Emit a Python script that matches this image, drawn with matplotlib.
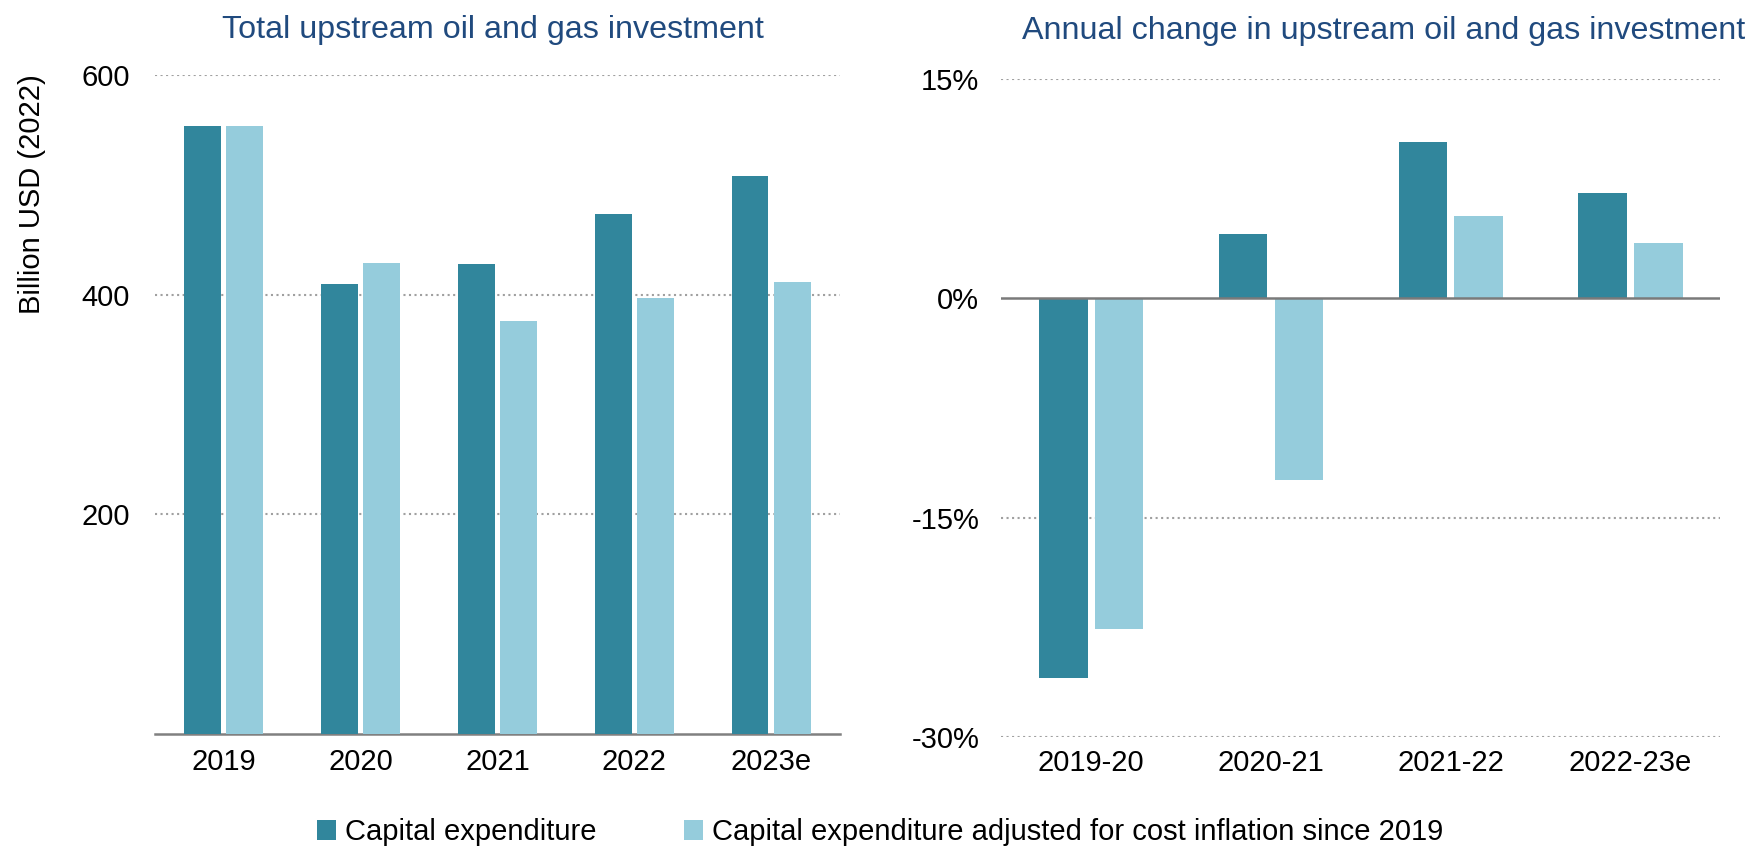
import matplotlib
matplotlib.use('Agg')
import matplotlib.pyplot as plt
import numpy as np

plt.rcParams['font.family'] = ['Liberation Sans', 'DejaVu Sans']

# 年ごとの上流投資額 (十億USD, 2022年価格)
years = ['2019', '2020', '2021', '2022', '2023e']
capex = [554, 410, 428, 474, 508]
capex_adj = [554, 429, 376, 397, 412]

# 前年比の変化率 (%)
periods = ['2019-20', '2020-21', '2021-22', '2022-23e']
chg = [-26.0, 4.4, 10.7, 7.2]
chg_adj = [-22.6, -12.4, 5.6, 3.8]

dark = '#31869c'
light = '#95ccdc'
title_col = '#204a7e'
grid_col = '#a0a0a0'
fs = 21
tfs = 23.2

fig = plt.figure(figsize=(17.6, 8.68), dpi=100)
ax1 = fig.add_axes([0.0881, 0.1544, 0.389, 0.759])
ax2 = fig.add_axes([0.569, 0.151, 0.4085, 0.758])

w = 0.27
off = 0.155

# 左: 投資額
x = np.arange(len(years))
b1 = ax1.bar(x - off, capex, w, color=dark, label='Capital expenditure', zorder=3)
b2 = ax1.bar(x + off, capex_adj, w, color=light,
             label='Capital expenditure adjusted for cost inflation since 2019', zorder=3)
ax1.set_xlim(-0.5, len(years) - 0.5)
ax1.set_ylim(0, 600)
ax1.set_yticks([200, 400, 600])
ax1.set_xticks(x)
ax1.set_xticklabels(years)
ax1.set_ylabel('Billion USD (2022)', fontsize=fs)
ax1.yaxis.set_label_coords(-0.159, 0.82)
ax1.set_title('Total upstream oil and gas investment', fontsize=tfs,
              color=title_col, pad=27, x=0.493)
ax1.grid(axis='y', linestyle=':', color=grid_col, linewidth=1.5)
ax1.spines[['top', 'right', 'left']].set_visible(False)
ax1.spines['bottom'].set_color('#808080')
ax1.spines['bottom'].set_linewidth(1.8)
ax1.tick_params(axis='y', length=0, labelsize=fs, pad=18)
ax1.tick_params(axis='x', length=0, labelsize=fs, pad=10)

# 右: 前年比
x2 = np.arange(len(periods))
ax2.bar(x2 - off, chg, w, color=dark, zorder=3)
ax2.bar(x2 + off, chg_adj, w, color=light, zorder=3)
ax2.set_xlim(-0.5, len(periods) - 0.5)
ax2.set_ylim(-30, 15)
ax2.set_yticks([15, 0, -15, -30])
ax2.set_yticklabels(['15%', '0%', '-15%', '-30%'])
ax2.set_xticks(x2)
ax2.set_xticklabels(periods)
ax2.set_title('Annual change in upstream oil and gas investment', fontsize=tfs,
              color=title_col, pad=29, x=0.532)
for v in [15, -15, -30]:
    ax2.axhline(v, linestyle=':', color=grid_col, linewidth=1.5, zorder=1)
ax2.axhline(0, color='#7a7a7a', linewidth=1.8, zorder=4)
ax2.spines[['top', 'right', 'left', 'bottom']].set_visible(False)
ax2.tick_params(axis='y', length=0, labelsize=fs, pad=16)
ax2.tick_params(axis='x', length=0, labelsize=fs, pad=9)

fig.legend(handles=[b1, b2], loc='lower center', bbox_to_anchor=(0.5, -0.005),
           ncol=2, frameon=False, fontsize=fs, handlelength=0.65, handleheight=0.7,
           handletextpad=0.3, columnspacing=3.0)

fig.savefig('out.png', dpi=100)
